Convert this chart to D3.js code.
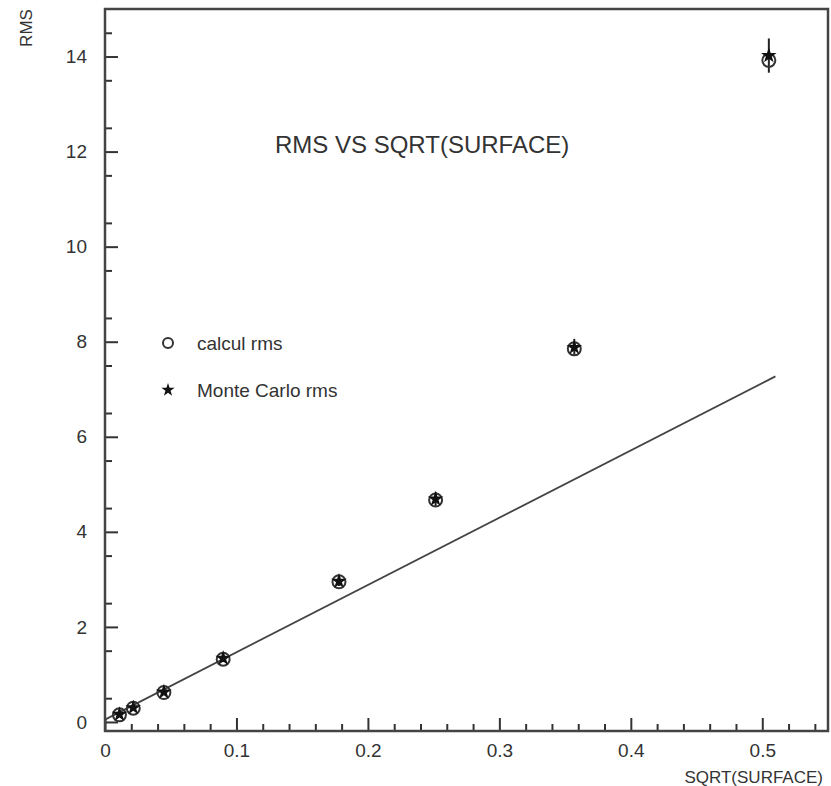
<!DOCTYPE html>
<html>
  <head>
    <title>RMS vs SQRT(SURFACE)</title>
    <script src="https://d3js.org/d3.v7.min.js"></script>
    <style>
      body { margin: 0; background: #fff; }
      text { font-family: "Liberation Sans", Arial, sans-serif; fill: #333; }
    </style>
  </head>
  <body>
    <div id="chart"></div>
    <script>
      // values
      var sqrtSurface = [0.011, 0.0215, 0.0448, 0.0899, 0.178, 0.2515, 0.357, 0.505];
      var calculRms   = [0.15, 0.29, 0.62, 1.32, 2.95, 4.67, 7.85, 13.92];
      var monteCarloRms = [0.16, 0.30, 0.63, 1.34, 2.96, 4.69, 7.88, 14.02];
      var mcError     = [0.02, 0.03, 0.05, 0.08, 0.1, 0.15, 0.18, 0.36];
      var fitX = [0, 0.51];
      var fitY = [0.05, 7.27];
      var xTicks = [0, 0.1, 0.2, 0.3, 0.4, 0.5];
      var yTicks = [0, 2, 4, 6, 8, 10, 12, 14];

      var W = 831, H = 786;
      var margin = { top: 9, right: 3, bottom: 55, left: 105 };
      var width = W - margin.left - margin.right;
      var height = H - margin.top - margin.bottom;

      var svg = d3.select("#chart").append("svg")
        .attr("width", W)
        .attr("height", H);

      var g = svg.append("g")
        .attr("transform", "translate(" + margin.left + "," + margin.top + ")");

      var x = d3.scaleLinear().domain([0, 0.55]).range([0, width]);
      var y = d3.scaleLinear().domain([-0.19, 15]).range([height, 0]);

      var ink = "#333";

      // minor ticks
      var xMinor = d3.range(0, 0.551, 0.02).filter(function(v) {
        return Math.abs(v * 10 - Math.round(v * 10)) > 1e-6;
      });
      var yMinor = d3.range(0.5, 15, 1);

      g.append("g")
        .attr("transform", "translate(0," + height + ")")
        .call(d3.axisBottom(x).tickValues(xMinor).tickSize(-7).tickFormat(""))
        .call(function(a) { a.select(".domain").remove(); });

      g.append("g")
        .call(d3.axisLeft(y).tickValues(yMinor).tickSize(-7).tickFormat(""))
        .call(function(a) { a.select(".domain").remove(); });

      // major ticks + labels
      g.append("g")
        .attr("class", "x-axis")
        .attr("transform", "translate(0," + height + ")")
        .call(d3.axisBottom(x).tickValues(xTicks).tickSize(-13).tickPadding(12.5)
          .tickFormat(function(d) { return d === 0 ? "0" : d3.format(".1f")(d); }))
        .call(function(a) { a.select(".domain").remove(); });

      g.append("g")
        .attr("class", "y-axis")
        .call(d3.axisLeft(y).tickValues(yTicks).tickSize(-13).tickPadding(18)
          .tickFormat(d3.format("d")))
        .call(function(a) { a.select(".domain").remove(); });

      g.selectAll(".tick line").attr("stroke", ink).attr("stroke-width", 2);
      g.selectAll(".tick text")
        .attr("font-size", "19px")
        .attr("font-family", "Liberation Sans, Arial, sans-serif")
        .style("fill", ink);

      // frame
      g.append("rect")
        .attr("x", 0).attr("y", 0)
        .attr("width", width).attr("height", height)
        .attr("fill", "none")
        .attr("stroke", "#444")
        .attr("stroke-width", 2.5);

      // fit line
      g.append("line")
        .attr("x1", x(fitX[0])).attr("y1", y(fitY[0]))
        .attr("x2", x(fitX[1])).attr("y2", y(fitY[1]))
        .attr("stroke", "#444")
        .attr("stroke-width", 1.8);

      var pts = sqrtSurface.map(function(v, i) {
        return { x: v, c: calculRms[i], m: monteCarloRms[i], e: mcError[i] };
      });

      // error bars
      g.selectAll("line.err")
        .data(pts)
        .enter()
        .append("line")
        .attr("class", "err")
        .attr("x1", function(d) { return x(d.x); })
        .attr("x2", function(d) { return x(d.x); })
        .attr("y1", function(d) { return y(d.m - d.e); })
        .attr("y2", function(d) { return y(d.m + d.e); })
        .attr("stroke", "#222")
        .attr("stroke-width", 2);

      // calcul rms circles
      g.selectAll("circle.calc")
        .data(pts)
        .enter()
        .append("circle")
        .attr("class", "calc")
        .attr("cx", function(d) { return x(d.x); })
        .attr("cy", function(d) { return y(d.c); })
        .attr("r", 6.5)
        .attr("fill", "none")
        .attr("stroke", "#333")
        .attr("stroke-width", 2);

      // monte carlo stars
      var star = d3.symbol().type(d3.symbolStar).size(75);
      g.selectAll("path.mc")
        .data(pts)
        .enter()
        .append("path")
        .attr("class", "mc")
        .attr("d", star)
        .attr("transform", function(d) { return "translate(" + x(d.x) + "," + y(d.m) + ")"; })
        .attr("fill", "#111");

      // legend
      svg.append("circle")
        .attr("cx", 168).attr("cy", 343).attr("r", 5)
        .attr("fill", "none").attr("stroke", "#333").attr("stroke-width", 2);
      svg.append("text")
        .attr("x", 197).attr("y", 350)
        .attr("font-size", "19px")
        .text("calcul rms");

      svg.append("path")
        .attr("d", d3.symbol().type(d3.symbolStar).size(55))
        .attr("transform", "translate(168,390)")
        .attr("fill", "#111");
      svg.append("text")
        .attr("x", 197).attr("y", 397)
        .attr("font-size", "19px")
        .text("Monte Carlo rms");

      // title
      svg.append("text")
        .attr("x", 275).attr("y", 153)
        .attr("font-size", "24px")
        .text("RMS VS SQRT(SURFACE)");

      // axis titles
      svg.append("text")
        .attr("transform", "translate(32,28) rotate(-90)")
        .attr("text-anchor", "middle")
        .attr("font-size", "17px")
        .text("RMS");

      svg.append("text")
        .attr("x", 823).attr("y", 783)
        .attr("text-anchor", "end")
        .attr("font-size", "17px")
        .text("SQRT(SURFACE)");
    </script>
  </body>
</html>
